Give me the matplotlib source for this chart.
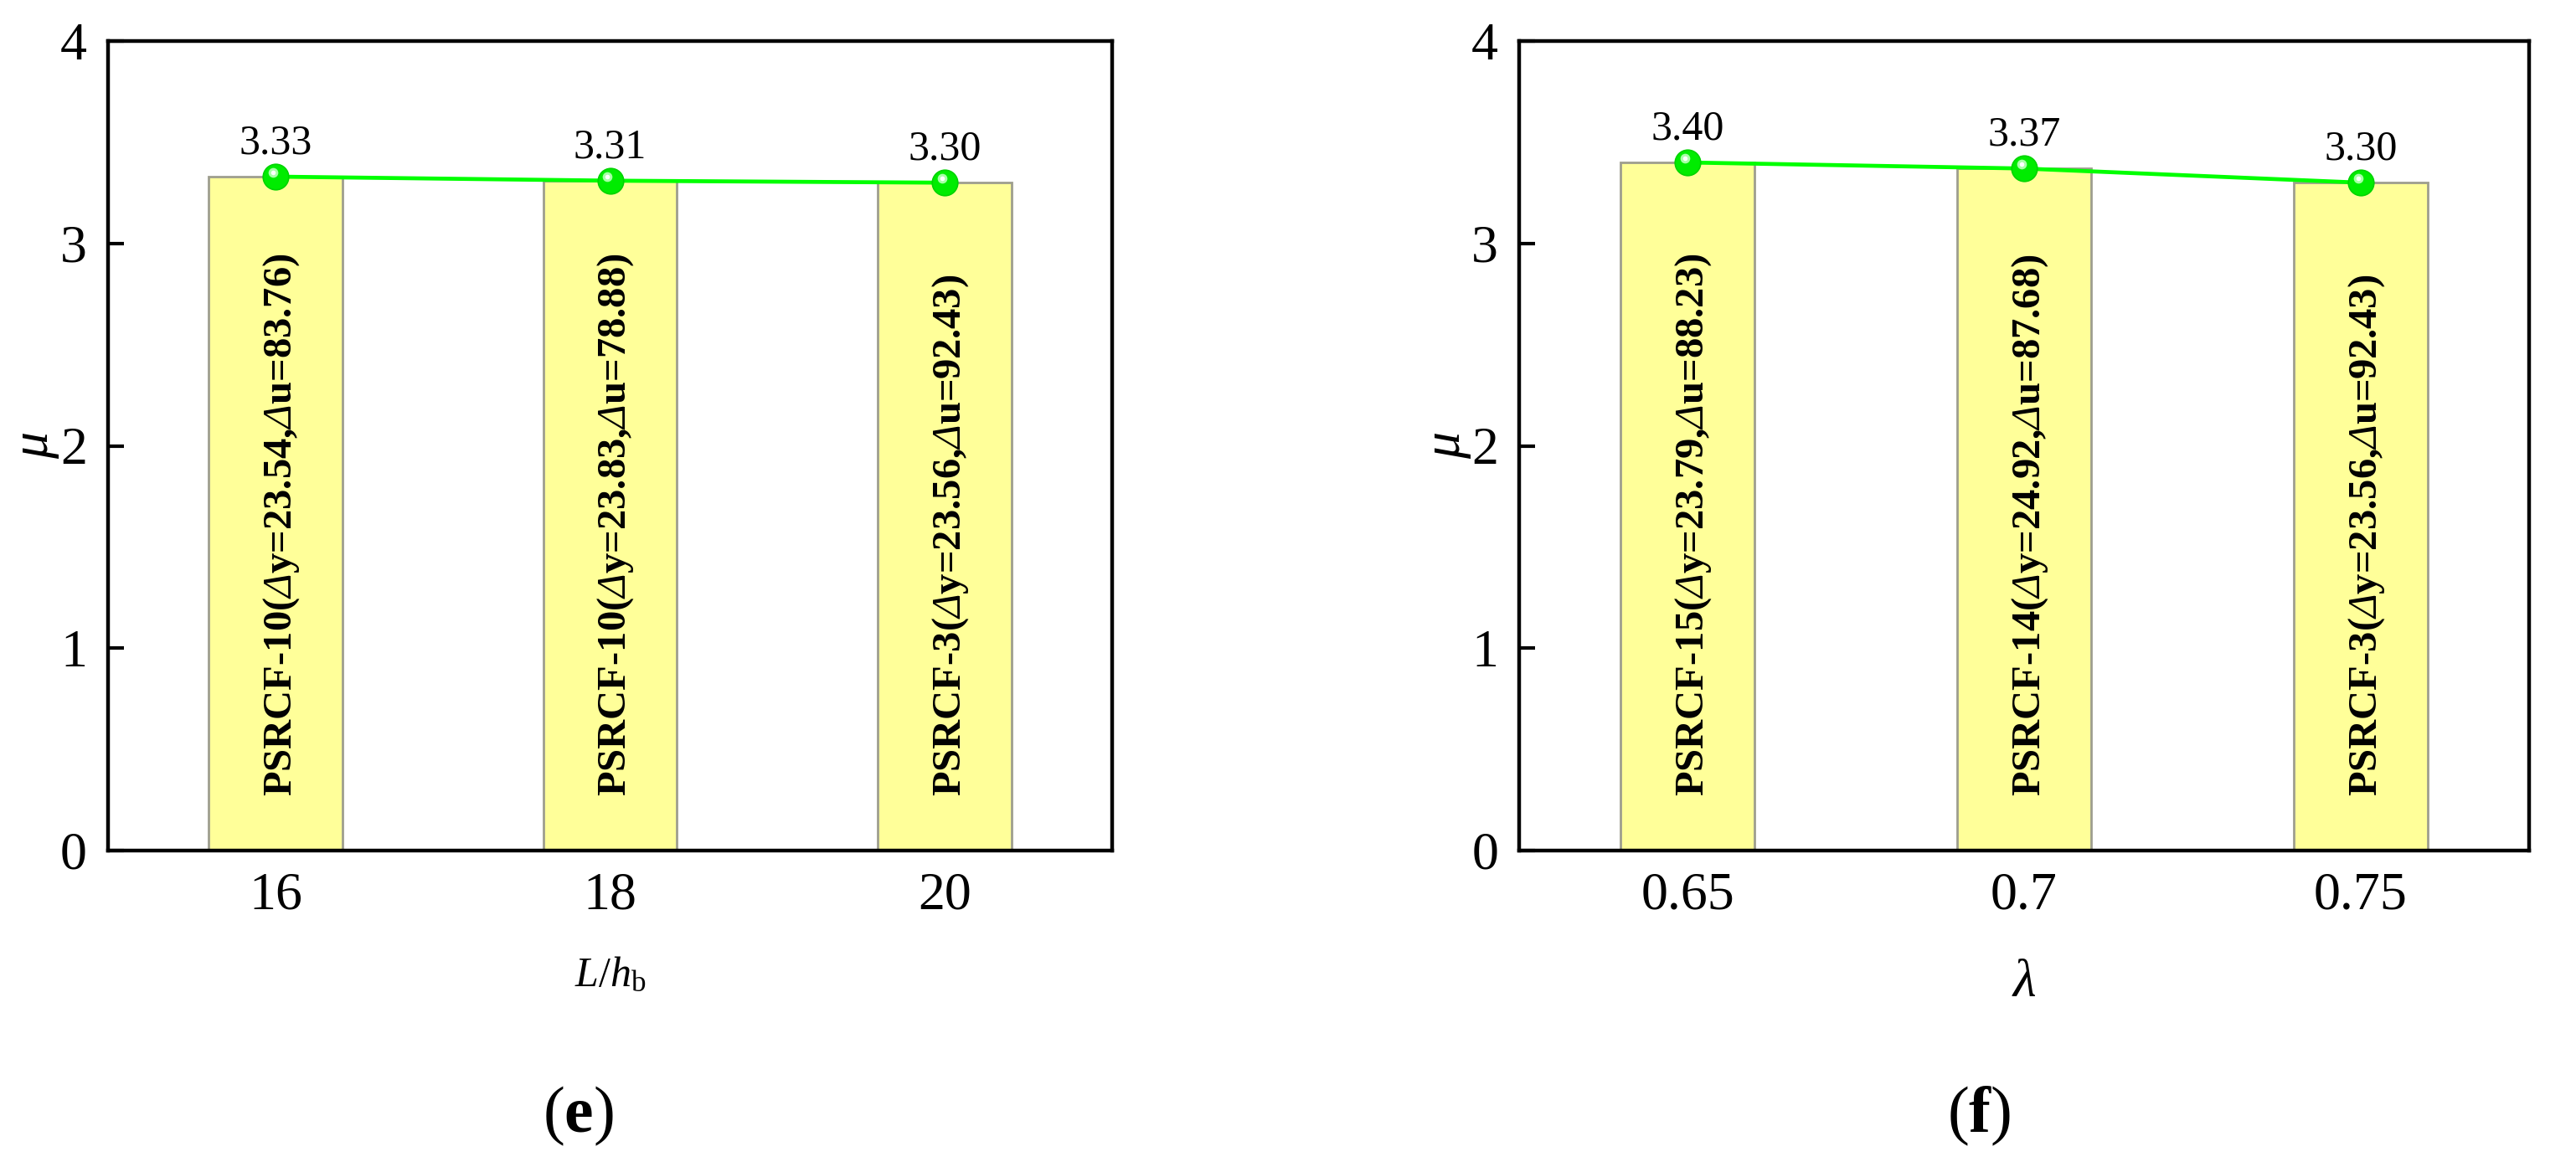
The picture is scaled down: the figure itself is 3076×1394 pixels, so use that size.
import numpy as np
import matplotlib
matplotlib.use("Agg")
import matplotlib.pyplot as plt
import matplotlib.transforms as mtransforms

plt.rcParams['font.family'] = ['Liberation Serif', 'DejaVu Serif']
plt.rcParams['mathtext.fontset'] = 'custom'
plt.rcParams['mathtext.rm'] = 'Liberation Serif'
plt.rcParams['mathtext.it'] = 'Liberation Serif:italic'
plt.rcParams['mathtext.bf'] = 'Liberation Serif:bold'
plt.rcParams['mathtext.sf'] = 'Liberation Serif:italic'

# panel (e)
e_labels = ['16', '18', '20']
e_mu = [3.33, 3.31, 3.30]
e_names = ['PSRCF-10', 'PSRCF-10', 'PSRCF-3']
e_dy = ['23.54', '23.83', '23.56']
e_du = ['83.76', '78.88', '92.43']

# panel (f)
f_labels = ['0.65', '0.7', '0.75']
f_mu = [3.40, 3.37, 3.30]
f_names = ['PSRCF-15', 'PSRCF-14', 'PSRCF-3']
f_dy = ['23.79', '24.92', '23.56']
f_du = ['88.23', '87.68', '92.43']

W, H = 3076, 1394
fig = plt.figure(figsize=(W / 200, H / 200), dpi=200)


def panel(rect, labels, mu, names, dy, du):
    ax = fig.add_axes(rect)
    x = np.arange(len(labels))
    ax.bar(x, mu, width=0.4, color='#FFFF99', edgecolor='#9E9E8E', linewidth=1.0, zorder=2)
    ax.plot(x, mu, '-', color='#00FF00', lw=1.7, zorder=3)
    ax.plot(x, mu, 'o', ms=11, mfc='#00EC00', mec='#00D400', mew=0.6, zorder=4)
    hl = mtransforms.offset_copy(ax.transData, fig=fig, x=-1.2, y=1.9, units='points')
    ax.plot(x, mu, 'o', ms=4.2, mfc='#A8FFA8', mec='none', transform=hl, zorder=5)
    ax.plot(x, mu, 'o', ms=2.0, mfc='white', mec='none', transform=hl, zorder=6)
    for i in range(len(x)):
        ax.annotate(f'{mu[i]:.2f}', (x[i], mu[i]), xytext=(0, 10), textcoords='offset points',
                    ha='center', va='baseline', fontsize=18, zorder=6)
        s = names[i] + r'($\mathsf{\Delta}$y=' + dy[i] + r',$\mathsf{\Delta}$u=' + du[i] + ')'
        ax.annotate(s, (x[i], 0.27), xytext=(2.5, 0), textcoords='offset points',
                    rotation=90, ha='center', va='bottom', fontsize=17.5,
                    fontweight='bold', zorder=5)
    ax.set_xlim(-0.5, 2.5)
    ax.set_ylim(0, 4)
    ax.set_xticks(x)
    ax.set_xticklabels(labels)
    ax.set_yticks([0, 1, 2, 3, 4])
    ax.tick_params(direction='in', length=6.8, width=1.5, labelsize=23, pad=9)
    for sp in ax.spines.values():
        sp.set_linewidth(1.6)
    return ax


bot = 1 - 1016 / H
hgt = (1016 - 49) / H
ax1 = panel([129 / W, bot, 1199 / W, hgt], e_labels, e_mu, e_names, e_dy, e_du)
ax2 = panel([1814 / W, bot, 1206 / W, hgt], f_labels, f_mu, f_names, f_dy, f_du)

# axis titles
fig.text(44 / W, 1 - 532 / H, r'$\mu$', rotation=90, ha='center', va='center', fontsize=23)
fig.text(1730 / W, 1 - 532 / H, r'$\mu$', rotation=90, ha='center', va='center', fontsize=23)
fig.text((129 + 1199 / 2) / W, 1 - 1178 / H, r'$L/h_\mathrm{b}$', ha='center', va='baseline', fontsize=18)
fig.text((1814 + 1206 / 2) / W, 1 - 1190 / H, r'$\lambda$', ha='center', va='baseline', fontsize=23)

# sub-figure labels
fig.text(690 / W, 1 - 1352 / H, r'($\mathbf{e}$)', ha='center', va='baseline', fontsize=28)
fig.text(2363 / W, 1 - 1352 / H, r'($\mathbf{f}$)', ha='center', va='baseline', fontsize=28)

fig.savefig('out.png', dpi=200)
